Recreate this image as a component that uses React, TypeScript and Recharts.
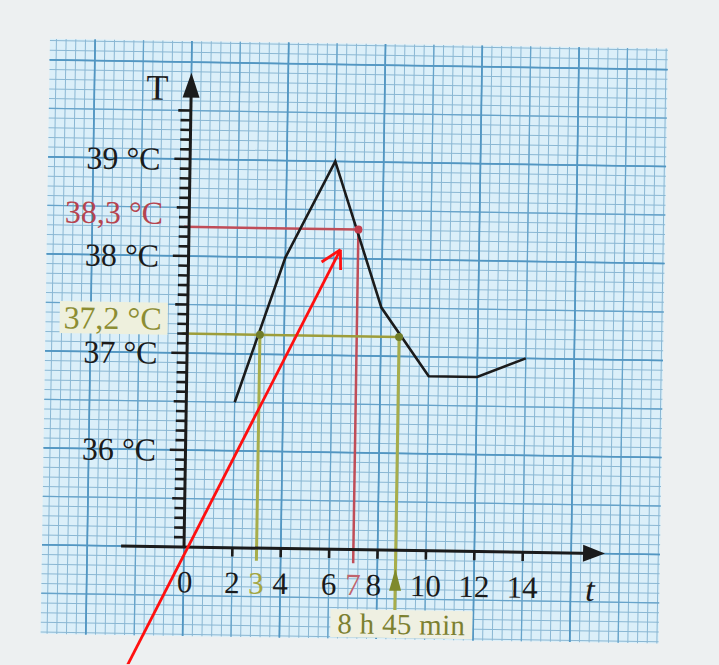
import React from 'react';
import { ComposedChart, Line, XAxis, YAxis, CartesianGrid, ReferenceLine, ReferenceDot } from 'recharts';

// temperature curve (t in hours, T in °C)
const hours = [2, 4, 6, 8, 10, 12, 14];
const temps = [36.5, 38, 39, 37.5, 36.8, 36.8, 37];

const hourTicks = [0, 2, 4, 6, 8, 10, 12, 14];
const degreeTicks = [36, 37, 38, 39];
const degreeLabels = ['36 °C', '37 °C', '38 °C', '39 °C'];

// readings drawn on the graph
const readTemp = 37.2;
const readHours = [3, 8.75];
const peakHour = 7;
const peakTemp = 38.3;

// red pointer drawn over the photo [t, T]
const pointerTail = [-2.7, 33.55];
const pointerHead = [6.27, 38.09];
const pointerBarbs = [[5.5, 37.96], [6.29, 37.88]];

// page geometry (px)
const W = 719;
const H = 665;
const ORIGIN = { x: 184, y: 547 };
const PX_H = 24.2;
const PX_DEG = 97;
const PAPER = { left: 42, right: 660, top: 41, bottom: 636 };

const xDomain = [(PAPER.left - ORIGIN.x) / PX_H, (PAPER.right - ORIGIN.x) / PX_H];
const yDomain = [35 - (PAPER.bottom - ORIGIN.y) / PX_DEG, 35 + (ORIGIN.y - PAPER.top) / PX_DEG];

const data = hours.map((t, i) => ({ t, T: temps[i] }));

const steps = (a: number, b: number, step: number, base = 0) => {
  const out: number[] = [];
  for (let k = Math.ceil((a - base) / step - 1e-6); k <= Math.floor((b - base) / step + 1e-6); k++) {
    out.push(+(base + k * step).toFixed(3));
  }
  return out;
};

const isMult = (v: number, m: number, base = 0) => Math.abs(((v - base) / m) - Math.round((v - base) / m)) < 1e-6;

const minorX = steps(xDomain[0], xDomain[1], 0.4);
const midX = minorX.filter((v) => isMult(v, 2));
const majorX = minorX.filter((v) => isMult(v, 4));
const minorY = steps(yDomain[0], yDomain[1], 0.1, 35);
const midY = minorY.filter((v) => isMult(v, 0.5, 35));
const majorY = minorY.filter((v) => isMult(v, 1, 35));

const yAxisTicks = steps(35.1, 39.5, 0.1, 35);

const SERIF = '"Liberation Serif", "DejaVu Serif", serif';
const INK = '#1b1b1b';
const RED = '#c04d58';
const OLIVE = '#8c8d33';
const GREEN = '#a7ad4b';

const textShape = (text: string, opts: any = {}) => (p: any) => {
  const anchor = opts.anchor || 'middle';
  const bg = opts.bg;
  const bx = bg ? (anchor === 'end' ? p.cx - bg.w + 6 : p.cx - bg.w / 2) : 0;
  return (
    <g>
      {bg && <rect x={bx} y={p.cy - bg.h / 2} width={bg.w} height={bg.h} fill={bg.fill} />}
      <text
        x={p.cx}
        y={p.cy}
        textAnchor={anchor}
        dominantBaseline="central"
        fontFamily={SERIF}
        fontSize={opts.size || 31}
        fontStyle={opts.italic ? 'italic' : 'normal'}
        fill={opts.color || INK}
        letterSpacing={opts.spacing || 0}
      >
        {text}
      </text>
    </g>
  );
};

const arrowUp = (len: number, half: number, color: string) => (p: any) => (
  <path d={`M${p.cx},${p.cy} L${p.cx - half},${p.cy + len} L${p.cx + half},${p.cy + len} Z`} fill={color} />
);
const arrowRight = (len: number, half: number, color: string) => (p: any) => (
  <path d={`M${p.cx},${p.cy} L${p.cx - len},${p.cy - half} L${p.cx - len},${p.cy + half} Z`} fill={color} />
);

export default function App() {
  return (
    <div style={{ position: 'absolute', left: 0, top: 0, width: W, height: H, overflow: 'hidden', background: '#edf0f1' }}>
      <div style={{ transform: 'rotate(0.9deg)', transformOrigin: `${ORIGIN.x}px ${ORIGIN.y}px` }}>
        <ComposedChart
          width={W}
          height={H}
          data={data}
          margin={{ left: PAPER.left, right: W - PAPER.right, top: PAPER.top, bottom: H - PAPER.bottom }}
        >
          <XAxis type="number" dataKey="t" domain={xDomain} hide allowDataOverflow interval={0} minTickGap={0} />
          <YAxis type="number" domain={yDomain} hide allowDataOverflow interval={0} minTickGap={0} />
          <CartesianGrid verticalValues={minorX} horizontalValues={minorY} stroke="#8ab7d3" strokeWidth={1} fill="#dbeff9" fillOpacity={1} />
          <CartesianGrid verticalValues={midX} horizontalValues={midY} stroke="#66a3ca" strokeWidth={1.3} />
          <CartesianGrid verticalValues={majorX} horizontalValues={majorY} stroke="#5296c2" strokeWidth={1.7} />

          {/* reading guides */}
          <ReferenceLine segment={[{ x: -0.2, y: peakTemp }, { x: peakHour, y: peakTemp }]} stroke={RED} strokeWidth={2.5} />
          <ReferenceLine segment={[{ x: peakHour, y: peakTemp }, { x: peakHour, y: 34.86 }]} stroke={RED} strokeWidth={2.5} />
          <ReferenceLine segment={[{ x: -0.2, y: readTemp }, { x: readHours[1], y: readTemp }]} stroke="#9d9d3a" strokeWidth={2.5} />
          <ReferenceLine segment={[{ x: readHours[0], y: readTemp }, { x: readHours[0], y: 34.87 }]} stroke={GREEN} strokeWidth={3} />
          <ReferenceLine segment={[{ x: readHours[1], y: readTemp }, { x: readHours[1], y: 34.38 }]} stroke={GREEN} strokeWidth={3} />
          <ReferenceDot x={readHours[1]} y={34.81} r={0} shape={arrowUp(22, 6, '#7f8a2c')} />

          {/* axes */}
          <ReferenceLine segment={[{ x: -2.6, y: 35 }, { x: 17.0, y: 35 }]} stroke={INK} strokeWidth={3} />
          <ReferenceLine segment={[{ x: 0, y: 35 }, { x: 0, y: 39.7 }]} stroke={INK} strokeWidth={3} />
          <ReferenceDot x={17.4} y={35} r={0} shape={arrowRight(22, 8.5, INK)} />
          <ReferenceDot x={0} y={39.89} r={0} shape={arrowUp(25, 8.5, INK)} />
          {yAxisTicks.map((v) => {
            const len = isMult(v, 1, 35) ? 0.65 : isMult(v, 0.5, 35) ? 0.52 : 0.42;
            return <ReferenceLine key={`yt${v}`} segment={[{ x: -len, y: v }, { x: 0, y: v }]} stroke={INK} strokeWidth={2.6} />;
          })}
          {hourTicks.slice(1).map((v) => (
            <ReferenceLine key={`xt${v}`} segment={[{ x: v, y: 35 }, { x: v, y: 34.91 }]} stroke={INK} strokeWidth={2.6} />
          ))}

          <Line dataKey="T" type="linear" stroke={INK} strokeWidth={2.6} dot={false} isAnimationActive={false} />

          <ReferenceDot x={peakHour} y={peakTemp} r={4} fill="#c43d4c" stroke="none" />
          {readHours.map((t) => (
            <ReferenceDot key={`rd${t}`} x={t} y={readTemp} r={4} fill="#6f7c2a" stroke="none" />
          ))}

          {/* labels */}
          <ReferenceDot x={-1.4} y={39.73} r={0} shape={textShape('T', { size: 36 })} />
          <ReferenceDot x={16.8} y={34.63} r={0} shape={textShape('t', { size: 34, italic: true })} />
          {degreeTicks.map((v, i) => (
            <ReferenceDot key={`yl${v}`} x={-1.22} y={v} r={0} shape={textShape(degreeLabels[i], { anchor: 'end', size: 32 })} />
          ))}
          <ReferenceDot x={-1.08} y={38.44} r={0} shape={textShape('38,3 °C', { anchor: 'end', size: 32, color: '#b6444f' })} />
          <ReferenceDot
            x={-1.07}
            y={37.35}
            r={0}
            shape={textShape('37,2 °C', { anchor: 'end', size: 32, color: OLIVE, bg: { w: 108, h: 32, fill: '#eef0dd' } })}
          />
          {hourTicks.map((v) => (
            <ReferenceDot key={`xl${v}`} x={v === 0 ? 0.05 : v === 8 ? 7.85 : v} y={34.64} r={0} shape={textShape(String(v), { size: 31 })} />
          ))}
          <ReferenceDot x={readHours[0]} y={34.64} r={0} shape={textShape('3', { size: 31, color: '#a3a53f' })} />
          <ReferenceDot x={peakHour} y={34.64} r={0} shape={textShape('7', { size: 31, color: '#c0636b' })} />
          <ReferenceDot x={9.03} y={34.24} r={0} shape={textShape('8 h 45 min', { size: 29, color: '#7c8030', spacing: 0.3, bg: { w: 142, h: 28, fill: '#eff0e2' } })} />

          {/* red pointer */}
          <ReferenceLine
            segment={[{ x: pointerTail[0], y: pointerTail[1] }, { x: pointerHead[0], y: pointerHead[1] }]}
            stroke="#ff1010"
            strokeWidth={2.8}
            ifOverflow="visible"
          />
          {pointerBarbs.map((b, i) => (
            <ReferenceLine
              key={`pb${i}`}
              segment={[{ x: b[0], y: b[1] }, { x: pointerHead[0], y: pointerHead[1] }]}
              stroke="#ff1010"
              strokeWidth={2.8}
            />
          ))}
        </ComposedChart>
      </div>
    </div>
  );
}
